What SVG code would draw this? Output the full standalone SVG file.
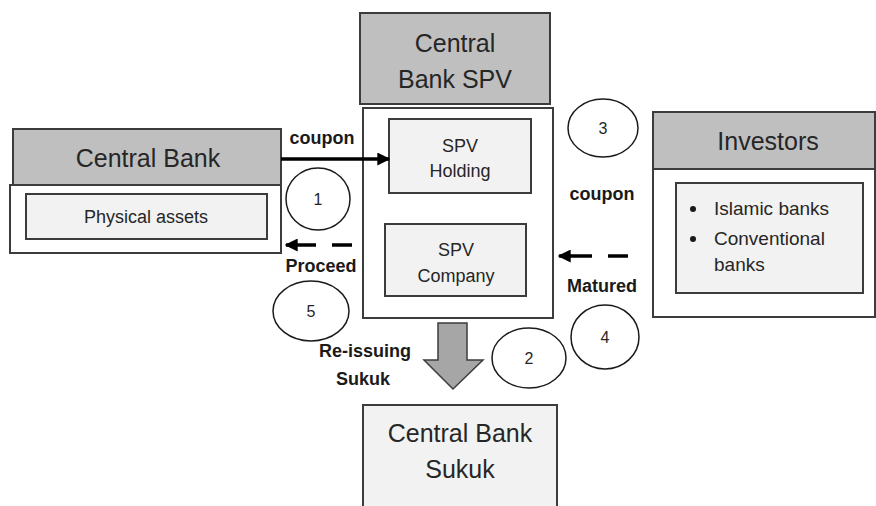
<svg xmlns="http://www.w3.org/2000/svg" width="876" height="506" viewBox="0 0 876 506">
  <style>
    .hdr { fill: #bfbfbf; stroke: #3c3c3c; stroke-width: 2; }
    .body { fill: #ffffff; stroke: #3c3c3c; stroke-width: 2; }
    .inner { fill: #f2f2f2; stroke: #3c3c3c; stroke-width: 2; }
    .title { font-family: "Liberation Sans", Arial, sans-serif; font-size: 25px; fill: #262626; text-anchor: middle; }
    .lbl { font-family: "Liberation Sans", Arial, sans-serif; font-size: 18px; fill: #262626; text-anchor: middle; }
    .bul { font-family: "Liberation Sans", Arial, sans-serif; font-size: 19px; fill: #262626; }
    .flow { font-family: "Liberation Sans", Arial, sans-serif; font-size: 18px; font-weight: bold; fill: #1a1a1a; text-anchor: middle; }
    .step { fill: #ffffff; stroke: #1a1a1a; stroke-width: 1.5; }
    .num { font-family: "Liberation Sans", Arial, sans-serif; font-size: 16px; fill: #262626; text-anchor: middle; }
    .arr { fill: none; stroke: #000000; stroke-width: 3.5; }
    .dash { stroke-dasharray: 20 16 60; }
  </style>
  <defs>
    <marker id="head" viewBox="0 0 10 10" refX="9" refY="5" markerUnits="userSpaceOnUse" markerWidth="13" markerHeight="13" orient="auto">
      <path d="M0,0 L10,5 L0,10 z" fill="#000000"/>
    </marker>
  </defs>

  <rect width="876" height="506" fill="#ffffff"/>

  <!-- Central Bank -->
  <g id="central-bank">
    <rect class="body" x="10" y="185" width="271" height="68"/>
    <rect class="hdr" x="13" y="129" width="268" height="56"/>
    <text class="title" x="148" y="167">Central Bank</text>
    <rect class="inner" x="26" y="194" width="241" height="45"/>
    <text class="lbl" x="146" y="223">Physical assets</text>
  </g>

  <!-- Central Bank SPV -->
  <g id="central-bank-spv">
    <rect class="hdr" x="360" y="13" width="190" height="91"/>
    <text class="title" x="455" y="52">Central</text>
    <text class="title" x="455" y="88">Bank SPV</text>
    <rect class="body" x="363" y="108" width="190" height="210"/>
    <rect class="inner" x="389" y="119" width="142" height="74"/>
    <text class="lbl" x="460" y="152">SPV</text>
    <text class="lbl" x="460" y="177">Holding</text>
    <rect class="inner" x="385" y="224" width="141" height="72"/>
    <text class="lbl" x="456" y="256">SPV</text>
    <text class="lbl" x="456" y="282">Company</text>
  </g>

  <!-- Investors -->
  <g id="investors">
    <rect class="body" x="653" y="169" width="222" height="148"/>
    <rect class="hdr" x="653" y="112" width="222" height="57"/>
    <text class="title" x="768" y="150">Investors</text>
    <rect class="inner" x="676" y="183" width="187" height="110"/>
    <circle cx="693" cy="209" r="3" fill="#1a1a1a"/>
    <text class="bul" x="714" y="215">Islamic banks</text>
    <circle cx="693" cy="239" r="3" fill="#1a1a1a"/>
    <text class="bul" x="714" y="245">Conventional</text>
    <text class="bul" x="714" y="271">banks</text>
  </g>

  <!-- Central Bank Sukuk -->
  <g id="central-bank-sukuk">
    <rect class="inner" x="363" y="405" width="194" height="104"/>
    <text class="title" x="460" y="442">Central Bank</text>
    <text class="title" x="460" y="478">Sukuk</text>
  </g>

  <!-- Connectors -->
  <g id="connectors">
    <path class="arr" d="M281,159 H389" marker-end="url(#head)"/>
    <text class="flow" x="322" y="144">coupon</text>

    <path class="arr dash" d="M352,245 H286" marker-end="url(#head)"/>
    <text class="flow" x="321" y="272">Proceed</text>

    <path class="arr dash" d="M628,256 H559" marker-end="url(#head)"/>
    <text class="flow" x="602" y="200">coupon</text>
    <text class="flow" x="602" y="292">Matured</text>

    <polygon points="438,323 467,323 467,360 483,360 453,389 424,360 438,360" fill="#a6a6a6" stroke="#3c3c3c" stroke-width="1.5"/>
    <text class="flow" x="365" y="357">Re-issuing</text>
    <text class="flow" x="363" y="385">Sukuk</text>
  </g>

  <!-- Step markers -->
  <g id="steps">
    <ellipse class="step" cx="318" cy="199" rx="32" ry="31"/>
    <text class="num" x="318" y="205">1</text>
    <ellipse class="step" cx="529" cy="358" rx="37" ry="30"/>
    <text class="num" x="529" y="364">2</text>
    <ellipse class="step" cx="603" cy="128" rx="35" ry="29"/>
    <text class="num" x="603" y="134">3</text>
    <ellipse class="step" cx="605" cy="337" rx="34" ry="32"/>
    <text class="num" x="605" y="343">4</text>
    <ellipse class="step" cx="311" cy="311" rx="38" ry="30"/>
    <text class="num" x="311" y="317">5</text>
  </g>
</svg>
